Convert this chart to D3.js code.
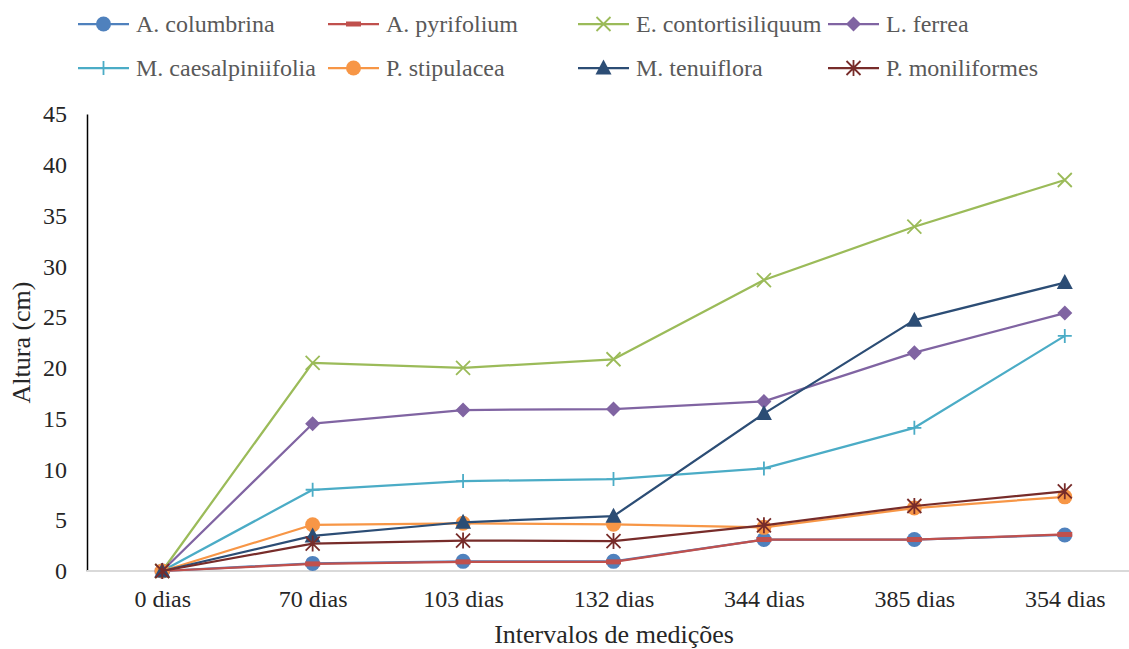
<!DOCTYPE html>
<html>
<head>
<meta charset="utf-8">
<script src="https://cdn.jsdelivr.net/npm/d3@7"></script>
<style>
  body { margin: 0; background: #fff; }
</style>
</head>
<body>
<svg id="display"></svg>
<script>
"use strict";

var width = 1129,
    height = 649;
var serif = 'Liberation Serif';

var categories = ['0 dias', '70 dias', '103 dias', '132 dias', '344 dias', '385 dias', '354 dias'];
var yTicks = [0, 5, 10, 15, 20, 25, 30, 35, 40, 45];

var columbrina = [0, 0.75, 0.95, 0.95, 3.1, 3.1, 3.55];
var pyrifolium = [0, 0.7, 0.9, 0.9, 3.1, 3.1, 3.6];
var contortisiliquum = [0, 20.5, 20.0, 20.85, 28.65, 33.9, 38.5];
var ferrea = [0, 14.5, 15.85, 15.95, 16.7, 21.5, 25.4];
var caesalpiniifolia = [0, 8.0, 8.85, 9.05, 10.1, 14.1, 23.15];
var stipulacea = [0, 4.55, 4.7, 4.6, 4.3, 6.2, 7.3];
var tenuiflora = [0, 3.45, 4.8, 5.4, 15.5, 24.7, 28.4];
var moniliformes = [0, 2.7, 3.0, 2.95, 4.5, 6.4, 7.85];

var series = [
  { name: 'A. columbrina', values: columbrina, color: '#4F81BD', marker: 'circle' },
  { name: 'A. pyrifolium', values: pyrifolium, color: '#C0504D', marker: 'dash' },
  { name: 'E. contortisiliquum', values: contortisiliquum, color: '#9BBB59', marker: 'x' },
  { name: 'L. ferrea', values: ferrea, color: '#8064A2', marker: 'diamond' },
  { name: 'M. caesalpiniifolia', values: caesalpiniifolia, color: '#4BACC6', marker: 'plus' },
  { name: 'P. stipulacea', values: stipulacea, color: '#F79646', marker: 'circle' },
  { name: 'M. tenuiflora', values: tenuiflora, color: '#2C4D75', marker: 'triangle' },
  { name: 'P. moniliformes', values: moniliformes, color: '#772C2A', marker: 'star' }
];

var svg = d3.select('#display').attr('width', width).attr('height', height)
  .attr('font-family', serif);

var plotLeft = 87, plotRight = 1140, plotTop = 114, plotBottom = 571;

var x = d3.scalePoint().domain(categories).range([plotLeft, plotRight]).padding(0.5);
var y = d3.scaleLinear().domain([0, 45]).range([plotBottom, plotTop]);

// axes
var yAxis = svg.append('g')
  .attr('transform', 'translate(' + plotLeft + ',0)')
  .call(d3.axisLeft(y).tickValues(yTicks).tickSize(0).tickPadding(20));
yAxis.attr('font-family', serif).attr('font-size', 24);
yAxis.select('.domain').attr('stroke', '#000').attr('stroke-width', 1.5);
yAxis.selectAll('text')
  .style('font-family', serif)
  .style('font-size', '24px')
  .attr('fill', '#262626');

var xAxis = svg.append('g')
  .attr('transform', 'translate(0,' + plotBottom + ')')
  .call(d3.axisBottom(x).tickSize(0).tickPadding(19));
xAxis.attr('font-family', serif).attr('font-size', 24);
xAxis.select('.domain').attr('stroke', '#d9d9d9').attr('stroke-width', 2)
  .attr('d', 'M' + plotLeft + ',0H' + plotRight);
xAxis.selectAll('text')
  .style('font-family', serif)
  .style('font-size', '24px')
  .attr('fill', '#262626');

svg.append('text')
  .attr('x', 614).attr('y', 643)
  .attr('text-anchor', 'middle')
  .style('font-size', '26px')
  .style('font-family', serif)
  .attr('fill', '#262626')
  .text('Intervalos de medições');

svg.append('text')
  .attr('transform', 'translate(30,' + ((plotTop + plotBottom) / 2) + ') rotate(-90)')
  .attr('text-anchor', 'middle')
  .style('font-size', '26px')
  .style('font-family', serif)
  .attr('fill', '#262626')
  .text('Altura (cm)');

// marker drawing
function drawMarker(g, type, color) {
  if (type === 'circle') {
    g.append('circle').attr('r', 7.5).attr('fill', color);
  } else if (type === 'dash') {
    g.append('rect').attr('x', -7.5).attr('y', -2.5).attr('width', 15).attr('height', 5).attr('fill', color);
  } else if (type === 'x') {
    g.append('path').attr('d', 'M-7,-7L7,7M-7,7L7,-7')
      .attr('stroke', color).attr('stroke-width', 1.8).attr('fill', 'none');
  } else if (type === 'diamond') {
    g.append('path').attr('d', 'M0,-7.5L7.5,0L0,7.5L-7.5,0Z').attr('fill', color);
  } else if (type === 'plus') {
    g.append('path').attr('d', 'M-7,0L7,0M0,-7L0,7')
      .attr('stroke', color).attr('stroke-width', 1.8).attr('fill', 'none');
  } else if (type === 'triangle') {
    g.append('path').attr('d', 'M0,-8.5L8,6.5L-8,6.5Z').attr('fill', color);
  } else if (type === 'star') {
    g.append('path').attr('d', 'M-7,-7L7,7M-7,7L7,-7M0,-8L0,8')
      .attr('stroke', color).attr('stroke-width', 1.8).attr('fill', 'none');
  }
}

var line = d3.line()
  .x(function(d, i){ return x(categories[i]); })
  .y(function(d){ return y(d); });

var plot = svg.append('g').attr('class', 'plot');
series.forEach(function(s) {
  var g = plot.append('g').attr('class', 'series');
  g.append('path')
    .attr('d', line(s.values))
    .attr('fill', 'none')
    .attr('stroke', s.color)
    .attr('stroke-width', 2.25)
    .attr('stroke-linejoin', 'round');
  s.values.forEach(function(v, i) {
    var m = g.append('g').attr('transform', 'translate(' + x(categories[i]) + ',' + y(v) + ')');
    drawMarker(m, s.marker, s.color);
  });
});

// legend
var legend = svg.append('g').attr('class', 'legend');
series.forEach(function(s, i) {
  var col = i % 4, row = Math.floor(i / 4);
  var g = legend.append('g')
    .attr('transform', 'translate(' + (78 + col * 250) + ',' + (24 + row * 44) + ')');
  g.append('line')
    .attr('x1', 0).attr('x2', 51).attr('y1', 0).attr('y2', 0)
    .attr('stroke', s.color).attr('stroke-width', 2.25);
  var m = g.append('g').attr('transform', 'translate(25.5,0)');
  drawMarker(m, s.marker, s.color);
  g.append('text')
    .attr('x', 58).attr('y', 8)
    .style('font-size', '24px')
    .style('font-family', serif)
    .attr('fill', '#595959')
    .text(s.name);
});
</script>
</body>
</html>
